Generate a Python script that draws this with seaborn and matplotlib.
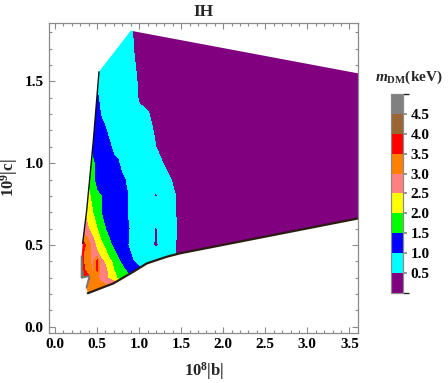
import numpy as np
import matplotlib
matplotlib.use("Agg")
import matplotlib.pyplot as plt
from matplotlib.colors import ListedColormap, BoundaryNorm
from matplotlib.patches import Polygon
from matplotlib.ticker import MultipleLocator, FormatStrFormatter
import seaborn as sns

# sample points of the scan: 10^8|b| (columns) and 10^9|c| (rows)
b_grid = [0.30, 0.35, 0.40, 0.45, 0.50, 0.55, 0.60, 0.65, 0.70, 0.75,
          0.80, 0.90, 1.00, 1.10, 1.20, 1.30, 1.40, 1.50, 3.70]
c_grid = [0.20, 0.25, 0.30, 0.35, 0.40, 0.45, 0.50, 0.60, 0.70, 0.80,
          0.90, 1.00, 1.10, 1.20, 1.30, 1.40, 1.50, 1.60, 1.70, 1.85]

# m_DM in keV
m_dm = [
    [4.0, 3.6, 3.4, 3.4, 3.4, 3.4, 3.3, 3.2, 3.1, 2.9, 2.6, 2.0, 1.6, 1.3, 1.1, 0.9, 0.7, 0.3, 0.3],
    [4.0, 3.6, 3.3, 3.3, 3.2, 3.2, 3.1, 3.0, 2.9, 2.6, 2.2, 1.7, 1.4, 1.2, 1.0, 0.8, 0.6, 0.3, 0.3],
    [4.5, 4.0, 3.6, 3.2, 3.1, 2.8, 2.6, 2.4, 2.2, 1.9, 1.8, 1.5, 1.3, 1.0, 0.8, 0.8, 0.6, 0.3, 0.3],
    [4.6, 3.5, 3.2, 2.9, 3.6, 2.7, 2.6, 2.3, 2.0, 1.8, 1.6, 1.3, 1.1, 0.9, 0.8, 0.8, 0.6, 0.3, 0.3],
    [4.5, 3.3, 3.1, 2.9, 3.7, 2.6, 2.4, 2.1, 1.9, 1.6, 1.4, 1.1, 0.8, 0.8, 0.8, 0.8, 0.6, 0.3, 0.3],
    [3.8, 3.4, 3.1, 2.8, 2.6, 2.3, 2.1, 1.8, 1.6, 1.4, 1.3, 1.0, 0.8, 0.8, 0.8, 0.8, 0.6, 0.3, 0.3],
    [3.9, 3.6, 3.2, 2.8, 2.3, 2.1, 1.9, 1.6, 1.4, 1.3, 1.2, 0.9, 0.8, 0.8, 0.4, 0.8, 0.6, 0.3, 0.3],
    [2.9, 2.7, 2.5, 2.2, 2.0, 1.7, 1.5, 1.3, 1.2, 1.2, 1.2, 0.95, 0.8, 0.8, 0.45, 0.8, 0.7, 0.3, 0.3],
    [2.5, 2.5, 2.3, 2.0, 1.7, 1.5, 1.3, 1.2, 1.2, 1.2, 1.2, 0.85, 0.8, 0.7, 0.8, 0.8, 0.6, 0.3, 0.3],
    [2.3, 2.3, 2.1, 1.8, 1.6, 1.5, 1.3, 1.2, 1.2, 1.2, 1.2, 0.9, 0.8, 0.8, 0.45, 0.8, 0.6, 0.3, 0.3],
    [2.0, 2.0, 1.9, 1.6, 1.3, 1.2, 1.2, 1.2, 1.2, 1.2, 1.1, 0.8, 0.8, 0.8, 0.55, 0.7, 0.45, 0.3, 0.3],
    [1.8, 1.8, 1.8, 1.6, 1.3, 1.2, 1.2, 1.2, 1.2, 1.05, 0.8, 0.8, 0.8, 0.6, 0.75, 0.45, 0.3, 0.3, 0.3],
    [1.6, 1.6, 1.6, 1.3, 1.3, 1.2, 1.2, 1.1, 0.8, 0.8, 0.8, 0.8, 0.55, 0.75, 0.5, 0.3, 0.3, 0.3, 0.3],
    [1.3, 1.3, 1.3, 1.3, 1.3, 1.2, 1.05, 0.8, 0.8, 0.8, 0.8, 0.8, 0.55, 0.7, 0.4, 0.3, 0.3, 0.3, 0.3],
    [1.3, 1.3, 1.3, 1.3, 1.2, 0.95, 0.8, 0.8, 0.8, 0.8, 0.8, 0.8, 0.6, 0.55, 0.3, 0.3, 0.3, 0.3, 0.3],
    [1.3, 1.3, 1.3, 1.3, 1.1, 0.8, 0.8, 0.8, 0.8, 0.8, 0.8, 0.8, 0.45, 0.3, 0.3, 0.3, 0.3, 0.3, 0.3],
    [1.0, 1.0, 1.0, 1.0, 0.9, 0.8, 0.8, 0.8, 0.8, 0.8, 0.8, 0.8, 0.4, 0.3, 0.3, 0.3, 0.3, 0.3, 0.3],
    [0.8, 0.8, 0.8, 0.8, 0.8, 0.8, 0.8, 0.8, 0.8, 0.8, 0.8, 0.75, 0.3, 0.3, 0.3, 0.3, 0.3, 0.3, 0.3],
    [0.8, 0.8, 0.8, 0.8, 0.8, 0.8, 0.8, 0.8, 0.8, 0.8, 0.8, 0.6, 0.3, 0.3, 0.3, 0.3, 0.3, 0.3, 0.3],
    [0.8, 0.8, 0.8, 0.8, 0.8, 0.8, 0.8, 0.8, 0.8, 0.8, 0.8, 0.55, 0.3, 0.3, 0.3, 0.3, 0.3, 0.3, 0.3],
]

level_edges = [0.0, 0.5, 1.0, 1.5, 2.0, 2.5, 3.0, 3.5, 4.0, 4.5, 5.0]
cbar_ticks = [0.5, 1.0, 1.5, 2.0, 2.5, 3.0, 3.5, 4.0, 4.5]
band_colors = ["#800080", "#00ffff", "#0000ff", "#00ff00", "#ffff00",
               "#ff8080", "#ff8000", "#ff0000", "#996633", "#808080"]

# edges of the allowed region
top_b = [0.523, 0.90, 3.70]
top_c = [1.559, 1.81, 1.540]
lower_b = [0.39, 0.693, 0.93, 1.09, 1.328, 1.486, 3.70]
lower_c = [0.205, 0.265, 0.336, 0.387, 0.428, 0.449, 0.672]
notch_b = [0.375, 0.41, 0.317, 0.317]
notch_c = [0.24, 0.31, 0.30, 0.43]
left_b = [0.329, 0.377, 0.456, 0.523]
left_c = [0.51, 0.713, 1.141, 1.559]

FRAME = "#8a8a8a"


def main():
    sns.set_theme(style="ticks")
    plt.rcParams["font.family"] = ["Liberation Serif", "DejaVu Serif"]
    plt.rcParams["font.weight"] = "bold"
    plt.rcParams["axes.labelweight"] = "bold"
    plt.rcParams["mathtext.fontset"] = "custom"
    plt.rcParams["mathtext.rm"] = "Liberation Serif:bold"
    plt.rcParams["mathtext.it"] = "Liberation Serif:italic:bold"
    plt.rcParams["mathtext.bf"] = "Liberation Serif:bold"

    fig = plt.figure(figsize=(4.48, 3.83), dpi=100)
    ax = fig.add_axes([0.110, 0.131, 0.690, 0.808])

    cmap = ListedColormap(sns.color_palette(band_colors))
    norm = BoundaryNorm(level_edges, cmap.N)
    cs = ax.contourf(b_grid, c_grid, np.array(m_dm), levels=level_edges, cmap=cmap, norm=norm)

    poly_b = top_b + lower_b[::-1] + notch_b + left_b
    poly_c = top_c + lower_c[::-1] + notch_c + left_c
    region = Polygon(np.column_stack([poly_b, poly_c]), closed=True,
                     facecolor="none", edgecolor="none", transform=ax.transData)
    ax.add_patch(region)
    cs.set_clip_path(region)

    sns.lineplot(x=lower_b, y=lower_c, sort=False, estimator=None, color="#2b1c12", lw=1.6, ax=ax)
    sns.lineplot(x=notch_b, y=notch_c, sort=False, estimator=None, color="#777777", lw=1.4, ax=ax)
    sns.lineplot(x=left_b, y=left_c, sort=False, estimator=None, color="#111111", lw=1.0, ax=ax)

    ax.set_xlim(-0.068, 3.607)
    ax.set_ylim(-0.037, 1.855)
    for a in (ax.xaxis, ax.yaxis):
        a.set_major_locator(MultipleLocator(0.5))
        a.set_minor_locator(MultipleLocator(0.1))
        a.set_major_formatter(FormatStrFormatter("%.1f"))
    ax.tick_params(which="both", direction="in", top=True, right=True,
                   color=FRAME, width=0.8, labelcolor="black", labelsize=11, pad=4)
    ax.tick_params(which="major", length=4)
    ax.tick_params(which="minor", length=2)
    for s in ax.spines.values():
        s.set_color(FRAME)
        s.set_linewidth(0.9)

    ax.set_title("IH", fontsize=12.5, fontweight="bold", pad=5)
    ax.set_xlabel(r"10$^{8}$|b|", fontsize=12, fontweight="bold", labelpad=6)
    ax.set_ylabel(r"10$^{9}$|c|", fontsize=12, fontweight="bold", labelpad=3)

    cax = fig.add_axes([0.872, 0.236, 0.028, 0.518])
    sm = matplotlib.cm.ScalarMappable(norm=norm, cmap=cmap)
    cb = fig.colorbar(sm, cax=cax, ticks=cbar_ticks)
    cb.outline.set_edgecolor(FRAME)
    cb.outline.set_linewidth(0.9)
    cax.yaxis.set_major_formatter(FormatStrFormatter("%.1f"))
    cax.tick_params(length=3, color=FRAME, labelcolor="black", labelsize=11, pad=2.5)
    fig.text(0.912, 0.797, r"$m_{\rm DM}$(keV)", ha="center", va="center", fontsize=11)

    fig.savefig("out.png", dpi=100)
    plt.close(fig)


if __name__ == "__main__":
    main()
